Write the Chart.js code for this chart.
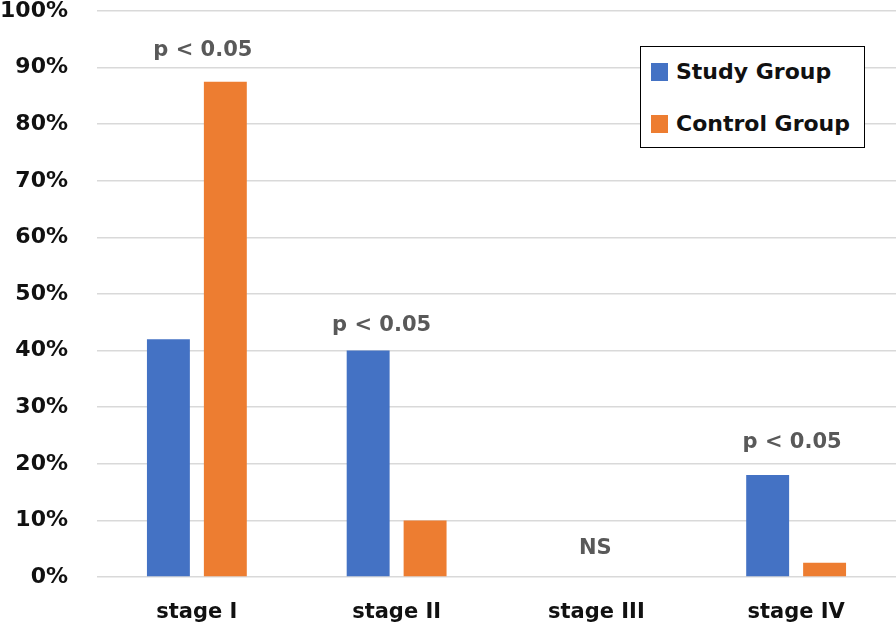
<!DOCTYPE html>
<html>
<head>
<meta charset="utf-8">
<script src="https://cdn.jsdelivr.net/npm/chart.js@4/dist/chart.umd.min.js"></script>
<style>
  body { margin: 0; background: #fff; }
  #wrap { position: relative; width: 896px; height: 632px; }
  #legend {
    position: absolute; left: 640px; top: 46px; width: 225px; height: 102px;
    border: 1px solid #000; background: #fff; box-sizing: border-box;
    font: bold 22px "DejaVu Sans", sans-serif; color: #111;
  }
  #legend div { position: absolute; left: 10px; height: 26px; line-height: 26px; white-space: nowrap; }
  #legend span { display: inline-block; width: 17px; height: 18px; margin-right: 8px; vertical-align: -2px; }
</style>
</head>
<body>
<div id="wrap">
  <canvas id="myChart" width="896" height="632"></canvas>
  <div id="legend"></div>
</div>
<script>
// data
var stages = ['stage I', 'stage II', 'stage III', 'stage IV']
var studyGroup = [42, 40, 0, 18]
var controlGroup = [87.5, 10, 0, 2.5]
var yTicks = [0, 10, 20, 30, 40, 50, 60, 70, 80, 90, 100]

// significance notes above each stage, y in percent
var noteText = ['p < 0.05', 'p < 0.05', 'NS', 'p < 0.05']
var noteY = [93, 44.5, 5, 23.7]
var noteShift = [6, -15, -1, -4]

var blue = '#4472C4'
var orange = '#ED7D31'
var font = '"DejaVu Sans", sans-serif'

// notes are drawn after the bars
var notesPlugin = {
  id: 'notes',
  afterDatasetsDraw(chart) {
    let ctx = chart.ctx
    let x = chart.scales.x
    let y = chart.scales.y
    ctx.save()
    ctx.font = 'bold 21px ' + font
    ctx.fillStyle = '#595959'
    ctx.textAlign = 'center'
    ctx.textBaseline = 'middle'
    noteText.forEach((t, i) => {
      ctx.fillText(t, x.getPixelForValue(i) + noteShift[i], y.getPixelForValue(noteY[i]))
    })
    ctx.restore()
  }
}

let chart = new Chart(document.getElementById('myChart'), {
  type: 'bar',
  data: {
    labels: stages,
    datasets: [
      { label: 'Study Group', data: studyGroup, backgroundColor: blue },
      { label: 'Control Group', data: controlGroup, backgroundColor: orange }
    ]
  },
  options: {
    responsive: false,
    animation: false,
    layout: { padding: { top: 11, right: 0, left: 0, bottom: 0 } },
    datasets: { bar: { categoryPercentage: 0.57, barPercentage: 0.754 } },
    plugins: { legend: { display: false }, tooltip: { enabled: false } },
    scales: {
      x: {
        grid: { display: false },
        border: { display: false },
        ticks: { color: '#111', font: { family: font, size: 21, weight: 'bold' }, padding: 15 },
        afterFit(s) { s.height = 55 }
      },
      y: {
        min: 0,
        max: 100,
        afterBuildTicks(s) { s.ticks = yTicks.map(v => ({ value: v })) },
        grid: { color: '#d9d9d9', lineWidth: 1.5, drawTicks: false },
        border: { display: false },
        ticks: {
          color: '#111',
          font: { family: font, size: 22, weight: 'bold' },
          padding: 29,
          callback: v => v + '%'
        },
        // tick padding also pads the top, take that back out
        afterFit(s) {
          s.width = 97
          s.paddingTop = 11
          s.paddingBottom = 0
        }
      }
    }
  },
  plugins: [notesPlugin]
})

// legend from the datasets
let legend = document.getElementById('legend')
chart.data.datasets.forEach((d, i) => {
  let row = document.createElement('div')
  row.style.top = (12 + i * 52) + 'px'
  row.innerHTML = '<span style="background:' + d.backgroundColor + '"></span>' + d.label
  legend.appendChild(row)
})
</script>
</body>
</html>
